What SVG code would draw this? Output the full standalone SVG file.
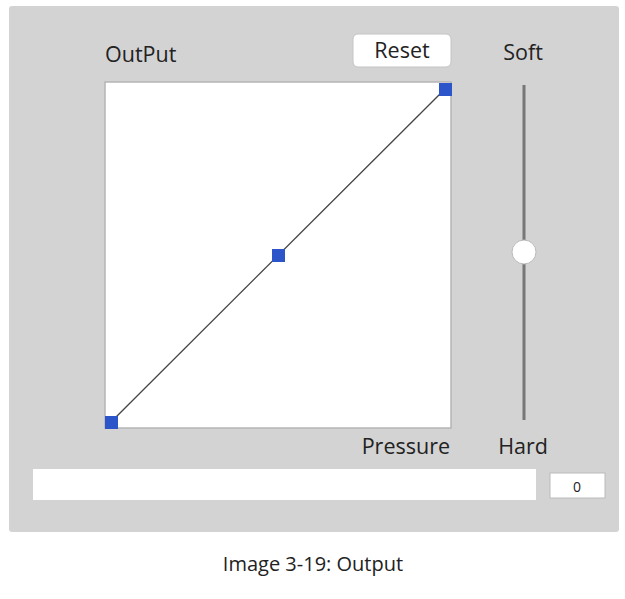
<svg xmlns="http://www.w3.org/2000/svg" width="625" height="599" viewBox="0 0 625 599">
<style>
text{font-family:"Open Sans","Liberation Sans",sans-serif;fill:#222}
.l{font-size:21.5px}
.h{fill:#2b55c8}
</style>
<rect width="625" height="599" fill="#fff"/>
<rect x="9" y="6" width="610" height="526" rx="3" fill="#d3d3d3"/>
<g id="title"><text class="l" x="105" y="62">OutPut</text></g>
<g id="reset"><rect x="353" y="34" width="98" height="33" rx="5" fill="#fff" stroke="#c4c4c4"/><text class="l" x="402" y="58" text-anchor="middle">Reset</text></g>
<g id="soft"><text class="l" x="523" y="60" text-anchor="middle">Soft</text></g>
<g id="plot"><rect x="105" y="82" width="346" height="346" fill="#fff" stroke="#b5b5b5" stroke-width="1.5"/></g>
<g id="connectors"><line x1="111" y1="422" x2="445" y2="89" stroke="#444" stroke-width="1.3"/></g>
<g id="handles"><rect class="h" x="105" y="416" width="13" height="13"/><rect class="h" x="272" y="249" width="13" height="13"/><rect class="h" x="439" y="83" width="13" height="13"/></g>
<g id="slider"><line x1="524" y1="85" x2="524" y2="420" stroke="#777" stroke-width="3"/><circle cx="524" cy="252" r="12" fill="#fff" stroke="#bbb"/></g>
<g id="pressure"><text class="l" x="450" y="454" text-anchor="end">Pressure</text></g>
<g id="hard"><text class="l" x="523" y="454" text-anchor="middle">Hard</text></g>
<g id="bar"><rect x="33" y="469" width="503" height="31" fill="#fff"/></g>
<g id="value"><rect x="550" y="473" width="55" height="25" fill="#fff" stroke="#bbb"/><text x="577" y="492" font-size="14" text-anchor="middle">0</text></g>
<g id="caption"><text x="313" y="571" font-size="20" text-anchor="middle">Image 3-19: Output</text></g>
</svg>
